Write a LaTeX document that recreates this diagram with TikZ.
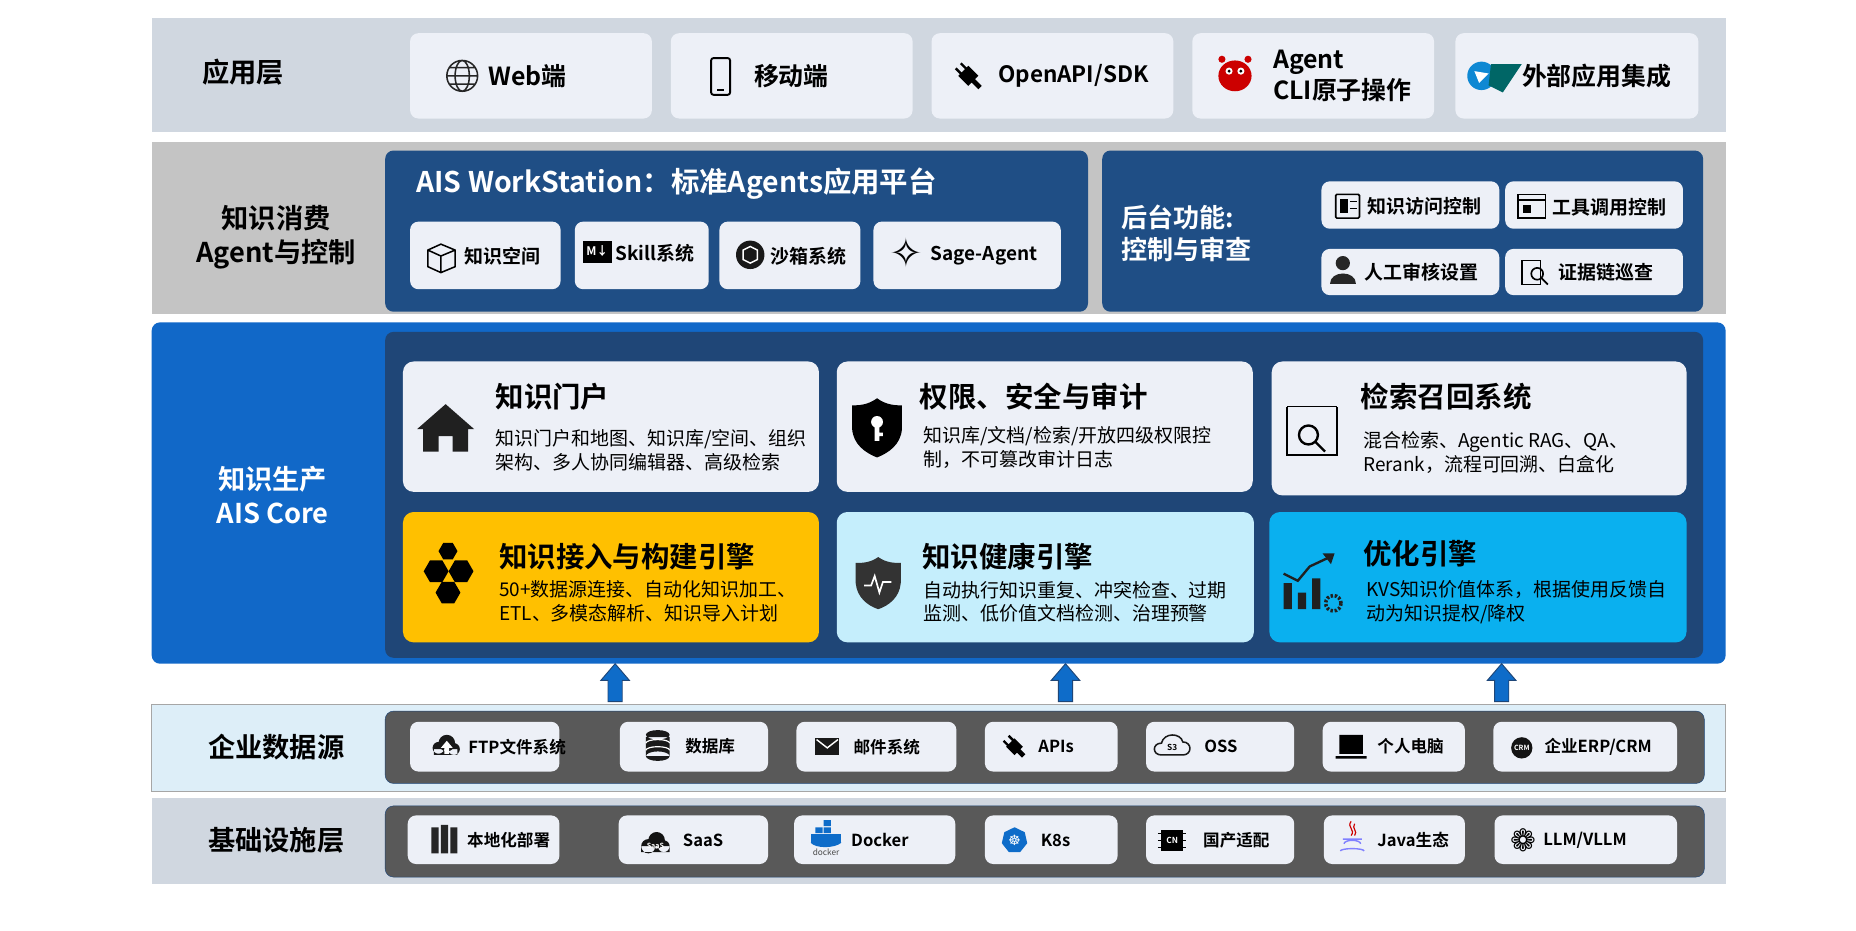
\documentclass[tikz,border=0pt]{standalone}
\usepackage{fontspec}
\setmainfont{Noto Sans CJK SC}[BoldFont=Noto Sans CJK SC Bold]
\newfontfamily\djv{DejaVu Sans}
\usetikzlibrary{shapes.geometric,shapes.arrows,arrows.meta,calc}
\definecolor{lay}{HTML}{D0D7E0}
\definecolor{laygrey}{HTML}{C4C4C4}
\definecolor{navy}{HTML}{1F4E85}
\definecolor{corebg}{HTML}{1168C8}
\definecolor{coreinner}{HTML}{1F4677}
\definecolor{card}{HTML}{EDF0F7}
\definecolor{cyellow}{HTML}{FFC000}
\definecolor{clight}{HTML}{C5EEFC}
\definecolor{ccyan}{HTML}{0AB0EF}
\definecolor{dsbg}{HTML}{DDEEF8}
\definecolor{panel}{HTML}{595959}
\definecolor{arrowblue}{HTML}{0E6CC9}
\newcommand{\bx}[6]{\node[#6, inner sep=0pt, outer sep=0pt, minimum width={#4pt-#2pt}, minimum height={#5pt-#3pt}] (#1) at ({(#2+#4)/2},{(#3+#5)/2}) {};}
\newcommand{\fs}[1]{\fontsize{#1pt}{\dimexpr #1pt*5/4\relax}\selectfont}
\newcommand{\uparr}[2]{\coordinate (#1) at (#2,576); \filldraw[fill=arrowblue, draw=coreinner, line width=0.8pt] ($(#1)+(-6,16)$) -- ++(0,-18) -- ++(-6,0) -- ($(#1)+(0,-16)$) -- ($(#1)+(12,-2)$) -- ++(-6,0) -- ++(0,18) -- cycle;}
\tikzset{
 layer/.style={fill=#1, draw=none},
 pnl/.style={fill=#1, rounded corners=7pt},
 tile/.style={fill=card, rounded corners=7pt},
 ctile/.style={fill=#1, rounded corners=9pt},
 lbl/.style={font=\bfseries\fs{23}, align=center},
 tl/.style={anchor=west, font=\bfseries\fs{#1}, inner sep=0pt},
 ttl/.style={anchor=west, font=\bfseries\fs{24}, inner sep=0pt},
 dsc/.style={anchor=north west, font=\fs{16}, align=left, inner sep=0pt}
}
\begin{document}
\begin{tikzpicture}[x=1pt,y=-1pt]
\useasboundingbox[fill=white] (0,0) rectangle (1566,785);
% ---------- layer 1
\bx{L1}{128}{15}{1456}{111}{layer=lay}
\node[lbl] (l1) at (205,61) {应用层};
\bx{a1}{346}{28}{550}{100}{tile}
\bx{a2}{566}{28}{770}{100}{tile}
\bx{a3}{786}{28}{990}{100}{tile}
\bx{a4}{1006}{28}{1210}{100}{tile}
\bx{a5}{1228}{28}{1433}{100}{tile}
% icons
\draw[line width=1.3pt,gray!30!black] (390,64) circle (13) (390,64) ellipse (6 and 13) (377,64)--(403,64) (379,57)--(401,57) (379,71)--(401,71);
\node[tl=21] (t1) at (412,64) {Web端};
\draw[line width=1.6pt,black,rounded corners=2pt] (600,49) rectangle (616,80); \draw[line width=1.4pt] (605,76)--(611,76);
\node[tl=21] (t2) at (636,64) {移动端};
\fill[black,rotate around={45:(817,64)}] (811,58) rectangle (823,70) (813,52) rectangle (815,58) (819,52) rectangle (821,58) (815,70) rectangle (819,78);
\node[tl=19] (t3) at (842,64) {OpenAPI/SDK};
\fill[red!80!black] (1042,64) ellipse (14 and 13); \fill[red!80!black] (1031,50) circle (3) (1053,50) circle (3);
\fill[white] (1037,60) circle (3) (1047,60) circle (3); \fill[black] (1037,60) circle (1.4) (1047,60) circle (1.4);
\node[tl=21, align=left] (t4) at (1074,64) {Agent\\CLI原子操作};
\fill[cyan!70!blue] (1250,64) circle (12); \fill[teal!80!black] (1258,54) -- (1284,54) -- (1268,78) -- (1256,72) -- cycle;
\fill[white] (1244,60) -- (1256,62) -- (1248,70) -- cycle;
\node[tl=21] (t5) at (1284,64) {外部应用集成};
% ---------- layer 2
\bx{L2}{128}{120}{1456}{265}{layer=laygrey}
\node[lbl] (l2) at (233,200) {知识消费\\Agent与控制};
\bx{ws}{325}{127}{918}{263}{pnl=navy}
\node[tl=24, text=white] (wst) at (351,155) {AIS WorkStation：标准Agents应用平台};
\bx{w1}{346}{187}{473}{244}{tile}
\bx{w2}{485}{187}{598}{244}{tile}
\bx{w3}{607}{187}{726}{244}{tile}
\bx{w4}{737}{187}{895}{244}{tile}
\draw[line width=1.3pt] (361,211)--(372,206)--(384,211)--(384,225)--(372,230)--(361,225)--cycle (361,211)--(372,216)--(384,211) (372,216)--(372,230);
\node[tl=16] (wt1) at (392,216) {知识空间};
\fill[black] (492,203) rectangle (516,222); \node[text=white,font=\bfseries\fs{10},inner sep=0] (md) at (504,212) {M↓};
\node[tl=16] (wt2) at (519,214) {Skill系统};
\fill[gray!20!black] (633,215) circle (12); \draw[white,line width=1.2pt] (627,211)--(633,208)--(639,211)--(639,219)--(633,222)--(627,219)--cycle;
\node[tl=16] (wt3) at (650,216) {沙箱系统};
\node[font=\djv\fs{34}, inner sep=0] (st) at (765,213) {✧};
\node[tl=16] (wt4) at (785,216) {Sage-Agent};
\bx{bk}{930}{127}{1437}{263}{pnl=navy}
\node[tl=22, text=white, align=left] (bkt) at (946,197) {后台功能:\\控制与审查};
\bx{b1}{1115}{153}{1265}{193}{tile}
\bx{b2}{1270}{153}{1420}{193}{tile}
\bx{b3}{1115}{210}{1265}{249}{tile}
\bx{b4}{1270}{210}{1420}{249}{tile}
\draw[line width=1.4pt,rounded corners=1pt] (1127,164) rectangle (1147,184); \fill (1131,168) rectangle (1137,180); \draw (1139,170)--(1145,170) (1139,176)--(1145,176);
\node[tl=16] (bt1) at (1154,174) {知识访问控制};
\draw[line width=1.4pt] (1281,164) rectangle (1304,184) (1281,169)--(1304,169); \fill (1285,173) rectangle (1292,180);
\node[tl=16] (bt2) at (1310,175) {工具调用控制};
\fill[gray!30!black] (1133,222) circle (6); \fill[gray!30!black] (1122,240) .. controls (1122,228) and (1144,228) .. (1144,240) -- cycle;
\node[tl=16] (bt3) at (1151,230) {人工审核设置};
\draw[line width=1.2pt] (1284,220) rectangle (1300,240); \draw[line width=1.4pt] (1297,231) circle (5) (1301,235)--(1306,240);
\node[tl=16] (bt4) at (1315,230) {证据链巡查};
% ---------- layer 3
\bx{L3}{128}{272}{1456}{560}{pnl=corebg}
\node[lbl, text=white] (l3) at (230,418) {知识生产\\AIS Core};
\bx{core}{325}{280}{1437}{555}{pnl=coreinner}
\bx{c1}{340}{305}{691}{415}{ctile=card}
\bx{c2}{706}{305}{1057}{415}{ctile=card}
\bx{c3}{1073}{305}{1423}{418}{ctile=card}
\bx{c4}{340}{432}{691}{542}{ctile=cyellow}
\bx{c5}{706}{432}{1058}{542}{ctile=clight}
\bx{c6}{1071}{432}{1423}{542}{ctile=ccyan}
% card1
\fill[gray!25!black] (352,362)--(376,341)--(400,362)--(395,362)--(395,381)--(382,381)--(382,368)--(370,368)--(370,381)--(357,381)--(357,362)--cycle;
\node[ttl] (ct1) at (418,335) {知识门户};
\node[dsc] (cd1) at (418,362) {知识门户和地图、知识库/空间、组织\\架构、多人协同编辑器、高级检索};
% card2
\fill[black] (740,336) .. controls (748,342) and (756,342) .. (761,342) -- (761,362) .. controls (760,375) and (750,382) .. (740,386) .. controls (730,382) and (720,375) .. (719,362) -- (719,342) .. controls (724,342) and (732,342) .. cycle;
\fill[white] (740,356) circle (5); \fill[white] (738,358) rectangle (742,372) (742,365) rectangle (745,368);
\node[ttl] (ct2) at (776,335) {权限、安全与审计};
\node[dsc] (cd2) at (779,360) {知识库/文档/检索/开放四级权限控\\制，不可篡改审计日志};
% card3
\draw[line width=1.6pt] (1086,343)--(1128,343) (1086,343)--(1086,384)--(1128,384)--(1128,343);
\draw[line width=2pt] (1104,367) circle (8) (1110,373)--(1118,381);
\node[ttl] (ct3) at (1148,335) {检索召回系统};
\node[dsc] (cd3) at (1150,364) {混合检索、Agentic RAG、QA、\\Rerank，流程可回溯、白盒化};
% card4
\node[regular polygon, regular polygon sides=6, fill=black, minimum size=21pt, inner sep=0] (h1) at (368,482) {};
\node[regular polygon, regular polygon sides=6, fill=black, minimum size=21pt, inner sep=0] (h2) at (389,482) {};
\node[regular polygon, regular polygon sides=6, fill=black, minimum size=21pt, inner sep=0] (h3) at (378,500) {};
\node[regular polygon, regular polygon sides=6, fill=black, minimum size=16pt, inner sep=0] (h4) at (378,465) {};
\node[ttl] (ct4) at (421,470) {知识接入与构建引擎};
\node[dsc] (cd4) at (421,490) {50+数据源连接、自动化知识加工、\\ETL、多模态解析、知识导入计划};
% card5
\fill[gray!40!black] (741,470) .. controls (748,475) and (755,475) .. (760,475) -- (760,492) .. controls (759,504) and (750,511) .. (741,514) .. controls (732,511) and (723,504) .. (722,492) -- (722,475) .. controls (727,475) and (734,475) .. cycle;
\draw[white,line width=1.4pt] (729,494)--(735,494)--(738,486)--(742,500)--(745,491)--(752,491);
\node[ttl] (ct5) at (778,470) {知识健康引擎};
\node[dsc] (cd5) at (779,490) {自动执行知识重复、冲突检查、过期\\监测、低价值文档检测、治理预警};
% card6
\fill[gray!25!black] (1083,492) rectangle (1090,514) (1095,500) rectangle (1102,514) (1107,488) rectangle (1114,514);
\draw[gray!25!black,line width=2pt] (1083,484)--(1095,490)--(1105,478)--(1122,470); \fill[gray!25!black] (1126,467)--(1116,467)--(1123,476)--cycle;
\node[circle, draw=gray!25!black, line width=3pt, dash pattern=on 2pt off 1.5pt, minimum size=13pt, inner sep=0] (gear) at (1125,509) {};
\node[ttl] (ct6) at (1150,467) {优化引擎};
\node[dsc] (cd6) at (1153,490) {KVS知识价值体系，根据使用反馈自\\动为知识提权/降权};
% ---------- layer 4
\bx{L4}{128}{594}{1456}{668}{layer=dsbg, draw=gray!70}
\node[lbl] (l4) at (233,630) {企业数据源};
\bx{dp}{325}{600}{1438}{661}{pnl=panel, draw=coreinner}
\bx{d1}{346}{609}{472}{651}{tile}
\bx{d2}{523}{609}{648}{651}{tile}
\bx{d3}{672}{609}{807}{651}{tile}
\bx{d4}{831}{609}{943}{651}{tile}
\bx{d5}{967}{609}{1092}{651}{tile}
\bx{d6}{1116}{609}{1236}{651}{tile}
\bx{d7}{1260}{609}{1415}{651}{tile}
\fill[gray!20!black] (370,631) circle (5) (377,627) circle (7) (383,632) circle (5) (366,632) rectangle (386,637);
\fill[white] (377,625)--(372,631)--(375,631)--(375,636)--(379,636)--(379,631)--(382,631)--cycle;
\node[tl=14] (dt1) at (395,630) {FTP文件系统};
\fill[gray!20!black] (555,620) ellipse (10 and 4) (545,622) rectangle (565,638) (555,638) ellipse (10 and 4);
\draw[white,line width=1pt] (545,627) arc (180:360:10 and 3) (545,633) arc (180:360:10 and 3);
\node[tl=14] (dt2) at (578,630) {数据库};
\fill[gray!20!black] (688,623) rectangle (708,637); \draw[white,line width=1.2pt] (689,624)--(698,631)--(707,624);
\node[tl=14] (dt3) at (720,630) {邮件系统};
\fill[black,rotate around={45:(856,630)}] (851,625) rectangle (861,635) (852,620) rectangle (854,625) (858,620) rectangle (860,625) (854,635) rectangle (858,641);
\node[tl=14] (dt4) at (876,630) {APIs};
\draw[gray!20!black,line width=1.3pt] (980,637) .. controls (972,637) and (972,627) .. (980,627) .. controls (982,618) and (996,618) .. (998,626) .. controls (1006,626) and (1006,637) .. (998,637) -- cycle;
\node[font=\bfseries\fs{7}, inner sep=0] (s3) at (989,631) {S3};
\node[tl=14] (dt5) at (1016,630) {OSS};
\fill[black] (1130,620) rectangle (1150,636) (1127,638) rectangle (1153,640);
\node[tl=14] (dt6) at (1162,630) {个人电脑};
\fill[gray!15!black] (1284,631) circle (9); \node[text=white, font=\bfseries\fs{6}, inner sep=0] (crm) at (1284,631) {CRM};
\node[tl=14] (dt7) at (1303,630) {企业ERP/CRM};
% ---------- layer 5
\bx{L5}{128}{673}{1456}{746}{layer=lay}
\node[lbl] (l5) at (233,709) {基础设施层};
\bx{ip}{325}{680}{1438}{740}{pnl=panel, draw=coreinner}
\bx{i1}{344}{688}{472}{729}{tile}
\bx{i2}{522}{688}{648}{729}{tile}
\bx{i3}{670}{688}{806}{729}{tile}
\bx{i4}{831}{688}{943}{729}{tile}
\bx{i5}{967}{688}{1092}{729}{tile}
\bx{i6}{1117}{688}{1236}{729}{tile}
\bx{i7}{1261}{688}{1415}{729}{tile}
\fill[gray!30!black] (364,698) rectangle (370,720) (372,696) rectangle (378,720) (380,698) rectangle (386,720);
\node[tl=14] (it1) at (394,709) {本地化部署};
\fill[gray!15!black] (547,714) circle (6) (554,709) circle (7) (560,714) circle (5) (541,714) rectangle (565,719);
\node[text=white, font=\bfseries\fs{6}, inner sep=0] (saasi) at (553,714) {SaaS};
\node[tl=14] (it2) at (576,709) {SaaS};
\fill[arrowblue] (684,704) rectangle (710,711); \fill[arrowblue] (688,698) rectangle (694,703) (695,698) rectangle (701,703) (695,692) rectangle (701,697); \fill[arrowblue] (684,711) .. controls (688,716) and (704,716) .. (710,711);
\node[font=\fs{7}, text=gray!60!black, inner sep=0] (dk) at (697,719) {docker};
\node[tl=14] (it3) at (718,709) {Docker};
\node[regular polygon, regular polygon sides=7, fill=arrowblue, minimum size=22pt, inner sep=0] (k8) at (856,709) {};
\node[font=\djv\fs{12}, text=white, inner sep=0] (k8w) at (856,709) {☸};
\node[tl=14] (it4) at (878,709) {K8s};
\foreach \t in {703,709,715} {\draw[line width=1pt] (977,\t)--(1001,\t);} 
\fill[black] (980,700) rectangle (998,718); \node[text=white, font=\bfseries\fs{7}, inner sep=0] (cn) at (989,709) {CN};
\node[tl=14] (it5) at (1015,709) {国产适配};
\draw[red!80!black, line width=1pt] (1140,693) .. controls (1136,698) and (1144,700) .. (1140,705) (1143,695) .. controls (1140,699) and (1146,701) .. (1143,705);
\draw[blue!50, line width=1.2pt] (1133,708) -- (1149,708) (1134,712) arc (180:360:7 and 3) (1131,718) arc (180:360:10 and 2);
\node[tl=14] (it6) at (1162,709) {Java生态};
\node[font=\djv\fs{26}, inner sep=0] (oa) at (1285,709) {❁};
\node[tl=14] (it7) at (1302,709) {LLM/VLLM};
% ---------- arrows
\uparr{ar1}{519}
\uparr{ar2}{899}
\uparr{ar3}{1267}
\end{tikzpicture}
\end{document}
